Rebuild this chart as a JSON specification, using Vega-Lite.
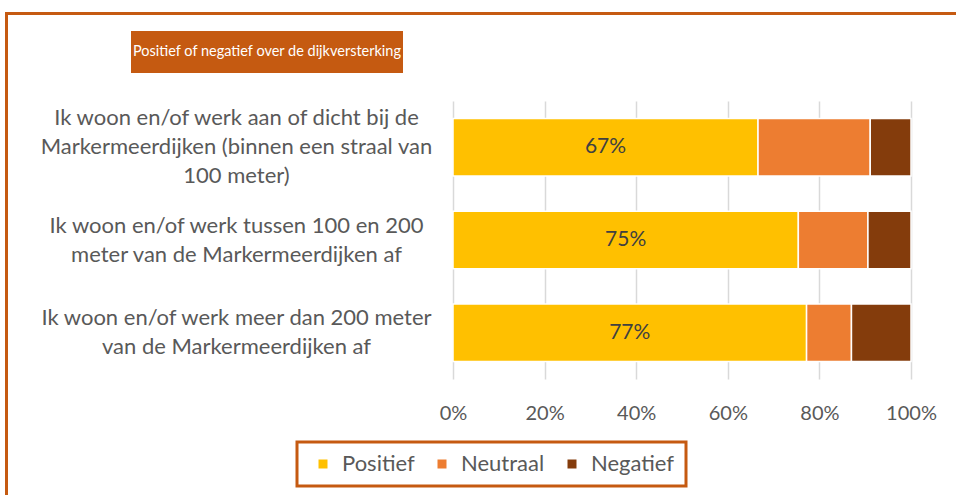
{
  "$schema": "https://vega.github.io/schema/vega-lite/v6.json",
  "padding": {"left": 5, "top": 12, "right": 0, "bottom": 0},
  "background": "white",
  "config": {"font": "Lato", "view": {"stroke": null}, "legend": {"strokeWidth": 3}},
  "spacing": 0,
  "hconcat": [
    {
      "width": 1, "height": 481,
      "data": {"values": []},
      "mark": "text",
      "encoding": {},
      "view": {"stroke": "#C55A11", "strokeWidth": 2, "fill": "#C55A11"}
    },
    {
      "spacing": 16,
      "vconcat": [
        {
          "width": 946, "height": 1,
          "data": {"values": []},
          "mark": "text",
          "encoding": {},
          "view": {"stroke": "#C55A11", "strokeWidth": 2, "fill": "#C55A11"}
        },
        {
          "spacing": 0,
          "hconcat": [
            {
              "width": 122, "height": 54,
              "data": {"values": []},
              "mark": "text",
              "encoding": {},
              "view": {"fill": "white", "stroke": null}
            },
            {
              "width": 272, "height": 42,
              "data": {"values": [{"title": "Positief of negatief over de dijkversterking"}]},
              "mark": {"type": "text", "color": "white", "fontSize": 14.5, "font": "Lato"},
              "encoding": {"text": {"field": "title", "type": "nominal"}},
              "view": {"fill": "#C55A11", "stroke": null}
            }
          ]
        },
        {
          "width": 902, "height": 278,
          "view": {"stroke": null},
          "data": {"values": [
            {"group": "Ik woon en/of werk aan of dicht bij de\nMarkermeerdijken (binnen een straal van\n100 meter)", "answer": "Positief", "value": 0.666},
            {"group": "Ik woon en/of werk aan of dicht bij de\nMarkermeerdijken (binnen een straal van\n100 meter)", "answer": "Neutraal", "value": 0.245},
            {"group": "Ik woon en/of werk aan of dicht bij de\nMarkermeerdijken (binnen een straal van\n100 meter)", "answer": "Negatief", "value": 0.089},
            {"group": "Ik woon en/of werk tussen 100 en 200\nmeter van de Markermeerdijken af", "answer": "Positief", "value": 0.754},
            {"group": "Ik woon en/of werk tussen 100 en 200\nmeter van de Markermeerdijken af", "answer": "Neutraal", "value": 0.152},
            {"group": "Ik woon en/of werk tussen 100 en 200\nmeter van de Markermeerdijken af", "answer": "Negatief", "value": 0.094},
            {"group": "Ik woon en/of werk meer dan 200 meter\nvan de Markermeerdijken af", "answer": "Positief", "value": 0.772},
            {"group": "Ik woon en/of werk meer dan 200 meter\nvan de Markermeerdijken af", "answer": "Neutraal", "value": 0.098},
            {"group": "Ik woon en/of werk meer dan 200 meter\nvan de Markermeerdijken af", "answer": "Negatief", "value": 0.130}
          ]},
          "resolve": {"scale": {"x": "independent"}},
          "layer": [
            {
              "mark": {"type": "bar", "stroke": "white", "strokeWidth": 1.5},
              "encoding": {
                "y": {
                  "field": "group", "type": "nominal", "sort": null,
                  "scale": {"paddingInner": 0.38, "paddingOuter": 0.19},
                  "axis": {
                    "title": null, "domain": false, "ticks": false,
                    "labelExpr": "split(datum.label, '\\n')",
                    "labelAlign": "center", "labelBaseline": "middle",
                    "labelPadding": -227, "labelLimit": 0,
                    "labelFontSize": 22, "labelFont": "Lato", "labelColor": "#595959",
                    "labelLineHeight": 29,
                    "labelOffset": {"condition": {"test": "length(split(datum.value, '\\n')) > 2", "value": -29}, "value": -14.5}
                  }
                },
                "x": {
                  "field": "value", "type": "quantitative", "stack": "zero",
                  "scale": {"domain": [0, 1], "range": [444, 902], "nice": false},
                  "axis": {
                    "title": null, "domain": false, "ticks": false,
                    "values": [0, 0.2, 0.4, 0.6, 0.8, 1], "format": ".0%",
                    "grid": true, "gridColor": "#D9D9D9", "gridWidth": 1.5,
                    "labelFontSize": 20, "labelFont": "Lato", "labelColor": "#595959",
                    "labelPadding": 24, "labelFlush": false
                  }
                },
                "color": {
                  "field": "answer", "type": "nominal",
                  "scale": {"domain": ["Positief", "Neutraal", "Negatief"], "range": ["#FFC000", "#ED7D31", "#843C0C"]},
                  "legend": {
                    "title": " ", "titleOrient": "left", "titlePadding": 4, "titleFontSize": 22,
                    "orient": "none", "legendX": 291, "legendY": 429,
                    "direction": "horizontal", "symbolType": "square", "symbolSize": 81,
                    "symbolStrokeWidth": 0, "gridAlign": "none",
                    "labelFontSize": 22, "labelFont": "Lato", "labelColor": "#595959",
                    "strokeColor": "#C55A11",
                    "padding": 11, "columnPadding": 16, "labelOffset": 8
                  }
                },
                "order": {"field": "answer", "type": "ordinal", "sort": "descending"}
              }
            },
            {
              "transform": [{"filter": "datum.answer === 'Positief'"}],
              "mark": {"type": "text", "color": "#404040", "fontSize": 21, "font": "Lato"},
              "encoding": {
                "y": {"field": "group", "type": "nominal", "sort": null},
                "x": {"field": "value", "type": "quantitative", "stack": null, "scale": {"domain": [0, 2], "range": [444, 902], "nice": false}, "axis": null},
                "text": {"field": "value", "type": "quantitative", "format": ".0%"}
              }
            }
          ]
        }
      ]
    }
  ]
}
